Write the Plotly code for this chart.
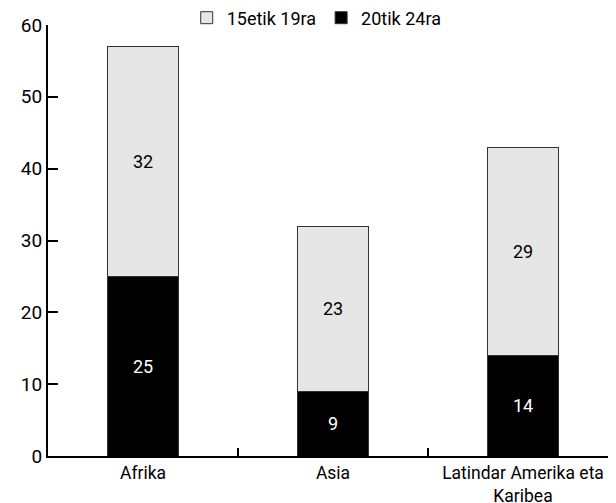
import plotly.graph_objects as go

categories = ["Afrika", "Asia", "Latindar Amerika eta<br>Karibea"]
age_20_24 = [25, 9, 14]
age_15_19 = [32, 23, 29]
series_names = ["20tik 24ra", "15etik 19ra"]
y_ticks = [0, 10, 20, 30, 40, 50, 60]

W, H = 612, 495  # page body has a default margin

fig = go.Figure()
fig.add_trace(go.Bar(
    x=categories, y=age_20_24, name=series_names[0],
    marker=dict(color="#000000", line=dict(color="#333333", width=1)),
    text=[str(v) for v in age_20_24], textposition="inside",
    insidetextanchor="middle", textfont=dict(color="white", size=18),
    width=0.372,
))
fig.add_trace(go.Bar(
    x=categories, y=age_15_19, name=series_names[1],
    marker=dict(color="#e6e6e6", line=dict(color="#333333", width=1)),
    text=[str(v) for v in age_15_19], textposition="inside",
    insidetextanchor="middle", textfont=dict(color="black", size=18),
    width=0.372,
))

fig.update_layout(
    barmode="stack",
    width=W, height=H,
    margin=dict(l=40, r=2, t=17, b=47, autoexpand=False),
    paper_bgcolor="white", plot_bgcolor="white",
    font=dict(family="Roboto, sans-serif", size=18, color="black"),
    uniformtext=dict(mode="show", minsize=18),
    legend=dict(orientation="h", x=0.292, y=1.0 - 10 / H, xref="container", yref="container",
                xanchor="left", yanchor="middle",
                traceorder="reversed", font=dict(size=18), itemwidth=30,
                bgcolor="rgba(0,0,0,0)"),
    showlegend=True,
)
fig.update_xaxes(
    showline=True, linecolor="black", linewidth=2,
    ticks="inside", tickson="boundaries", ticklen=8, tickwidth=2, tickcolor="black",
    showgrid=False, range=[-0.5, 2.5], tickfont=dict(size=17.5), tickangle=0,
)
fig.update_yaxes(
    range=[0, 60], tickvals=y_ticks, showline=True, linecolor="black", linewidth=2,
    ticks="inside", ticklen=10, tickwidth=2, tickcolor="black",
    showgrid=False, zeroline=False, tickfont=dict(size=19),
)

fig.write_html("out.html")
